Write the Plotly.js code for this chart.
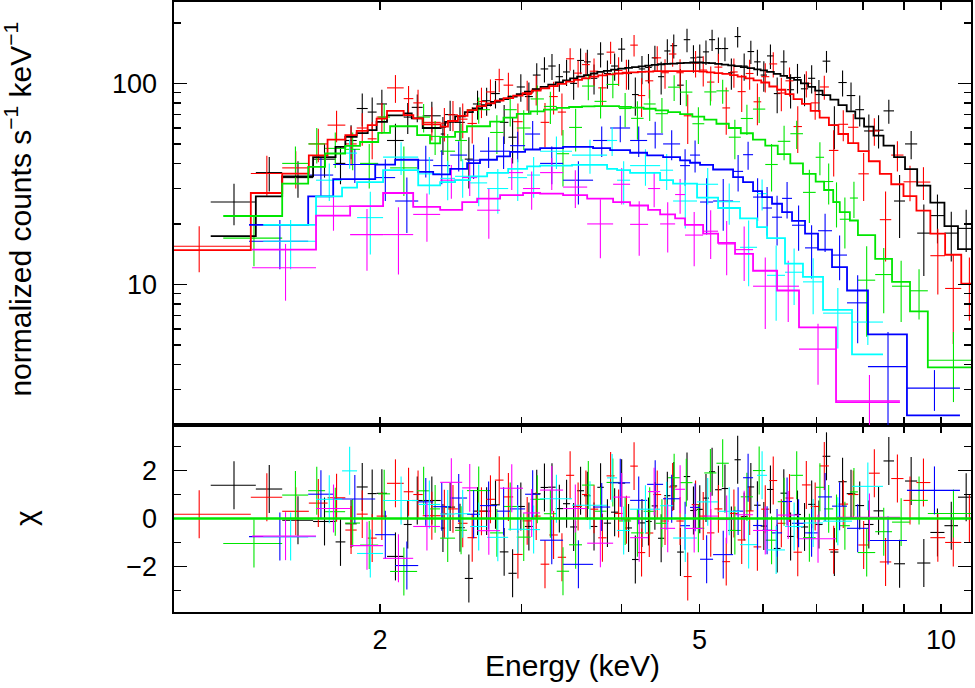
<!DOCTYPE html>
<html>
<head>
<meta charset="utf-8">
<script src="https://cdn.plot.ly/plotly-3.0.1.min.js"></script>
<style>
  html, body { margin: 0; padding: 0; background: #fff; }
  #plot { width: 975px; height: 688px; }
</style>
</head>
<body>
<div id="plot"></div>
<script>
// --- spectra: bin edges (keV), counts, 1-sigma errors, folded model ---
const blackEdges = [1.23, 1.40, 1.51, 1.65, 1.76, 1.81, 1.87, 1.93, 1.98, 2.04, 2.14, 2.19, 2.26, 2.38, 2.41, 2.48, 2.55, 2.61, 2.68, 2.75,
  2.82, 2.89, 2.96, 3.03, 3.10, 3.17, 3.24, 3.31, 3.38, 3.45, 3.52, 3.59, 3.66, 3.73, 3.80, 3.88, 3.96, 4.04, 4.12, 4.20,
  4.28, 4.36, 4.44, 4.52, 4.60, 4.69, 4.78, 4.87, 4.96, 5.05, 5.14, 5.23, 5.33, 5.43, 5.53, 5.63, 5.74, 5.85, 5.96, 6.07,
  6.19, 6.31, 6.43, 6.56, 6.69, 6.83, 6.97, 7.12, 7.28, 7.45, 7.63, 7.82, 8.02, 8.24, 8.48, 8.74, 9.02, 9.34, 9.70, 10.1, 10.5, 11.0];
const blackCounts = [25.7, 36, 34, 42, 40, 52, 75, 72, 79, 52, 68, 76, 69, 56, 70, 64, 42, 79, 82, 89,
  64, 54, 96, 86, 110, 118, 122, 108, 114, 100, 130, 128, 106, 140, 112, 122, 148, 112, 88, 118,
  120, 134, 108, 145, 154, 98, 165, 134, 135, 143.5, 165, 149, 149, 113, 171, 122, 144, 128, 110, 137,
  89, 128, 93, 107, 94, 106, 88, 129, 62, 101, 87, 74, 58, 58.5, 73, 26, 50, 18, 22, 18, 19];
const blackErr = [6, 7, 7, 8, 8.5, 10, 14, 13, 14, 11, 12, 12, 12, 12, 12, 12, 12, 13, 13, 14,
  14, 14, 15, 15, 16, 17, 18, 17, 17, 17, 19, 19, 18, 20, 18, 19, 20, 19, 19, 19,
  20, 20, 20, 21, 21, 20, 22, 21, 21, 20, 20, 20, 20, 20, 20, 19, 19, 19, 19, 19,
  18, 18, 18, 18, 17, 17, 16, 16, 15, 15, 14, 13, 12, 11, 10, 9, 8, 7, 6, 5, 4.5];
const blackModel = [17.4, 27.4, 34.5, 43, 48.3, 54.2, 56.6, 58.5, 64.3, 69.4, 71, 67, 60, 60.8, 64.3, 68.6, 72, 75, 78, 81,
  83.5, 86, 88.5, 91, 93.5, 96, 98.5, 101, 103.5, 106, 108, 110, 112, 114, 115.5, 117, 118.5, 119.5, 120.5, 121.5,
  122.5, 123.5, 124.5, 125, 125.5, 126, 126.5, 127, 127, 126.5, 126, 125, 124, 123, 122, 120.5, 119, 117.5, 116, 114,
  111.5, 109, 106.5, 104, 100, 96, 92, 87.5, 83, 78, 72.5, 67, 61, 55, 49, 43, 37.5, 31, 25.5, 19.5, 15];

const redEdges = [1.0, 1.38, 1.51, 1.63, 1.72, 1.81, 1.87, 1.93, 1.98, 2.04, 2.14, 2.20, 2.26, 2.38, 2.43, 2.50, 2.57, 2.64, 2.71, 2.78,
  2.85, 2.93, 3.01, 3.09, 3.17, 3.25, 3.33, 3.41, 3.49, 3.57, 3.65, 3.74, 3.83, 3.92, 4.01, 4.10, 4.19, 4.28, 4.38, 4.48,
  4.58, 4.68, 4.78, 4.89, 5.00, 5.11, 5.22, 5.34, 5.46, 5.58, 5.71, 5.84, 5.97, 6.11, 6.25, 6.40, 6.55, 6.71, 6.88, 7.06,
  7.25, 7.45, 7.66, 7.89, 8.13, 8.39, 8.67, 8.98, 9.32, 9.70, 10.12, 10.6, 11.1];
const redCounts = [15.5, 35.6, 38, 50, 62, 50, 60, 53, 68, 95, 84, 80, 64, 63.4, 69.8, 66.4, 63.2, 81.2, 90.7, 104.4,
  98, 64.5, 88, 93.6, 64, 86, 72, 132.6, 112.5, 124, 115, 95, 143, 116, 112, 155, 87, 103, 134, 113,
  140, 113, 69, 126, 116.5, 101.5, 120.5, 75.5, 114, 91, 112, 81, 108, 125, 89.6, 103, 61, 100, 80, 96,
  46.4, 62.6, 60.5, 35.5, 58, 21, 44, 32.4, 32.3, 13.9, 9.55, 10.1];
const redErr = [4, 8, 8, 9.5, 11, 11, 11, 11, 12, 15, 13, 13, 12, 12, 12, 13, 13, 14, 14, 14,
  15, 15, 15, 16, 16, 16, 17, 17, 17, 18, 18, 18, 18, 19, 19, 19, 19, 19, 19, 19,
  19, 19, 19, 19, 20, 20, 20, 20, 19, 19, 19, 19, 18, 18, 17, 17, 16, 15, 14, 13,
  12, 11, 10, 9.5, 9, 8, 7.5, 6.5, 6, 5, 4.5, 3.5];
const redModel = [14.8, 28.5, 35.6, 43.9, 52.5, 55.3, 58, 62, 66.8, 73, 69.5, 67, 62.6, 61, 65, 69, 73.6, 77, 79.5, 82,
  84.5, 87, 89.5, 92, 94.5, 97, 99.5, 102, 104, 106, 108, 109.5, 111, 112, 113, 113.5, 114, 114.5, 115, 115,
  115, 115, 115, 115, 114.5, 113.5, 112.5, 111.5, 110, 108, 106, 103.5, 101, 96.5, 93, 88.5, 83.5, 79, 73, 67.5,
  62, 56, 50.5, 46, 41, 35.5, 31.5, 27.5, 23.3, 17.9, 14.05, 10.1];

const greenEdges = [1.275, 1.51, 1.627, 1.708, 1.809, 1.888, 1.989, 2.058, 2.224, 2.308, 2.376, 2.48, 2.566, 2.742, 2.85, 2.96, 3.08, 3.20, 3.32, 3.44,
  3.57, 3.70, 3.83, 3.97, 4.11, 4.26, 4.41, 4.57, 4.73, 4.90, 5.07, 5.25, 5.44, 5.63, 5.83, 6.04, 6.26, 6.49, 6.73, 6.98,
  7.15, 7.34, 7.48, 7.70, 7.88, 8.28, 8.69, 9.15, 9.63, 11.1];
const greenCounts = [17, 40, 50, 47.5, 47, 40, 68, 38, 68, 54.5, 46, 52, 74, 57, 74, 60, 83.7, 76.8, 44.7, 60.4,
  97, 81.4, 98.8, 75, 67, 79, 70.7, 95.8, 90.5, 63, 90.7, 91.8, 54, 66.9, 74.5, 39.5, 51.5, 56.2, 28.7, 42.9,
  32.5, 25.7, 21.1, 26.9, 10.5, 11.2, 9.8, 9.3, 4.2];
const greenErr = [4.7, 8.5, 10, 9.5, 10, 10, 11, 10.5, 11, 10.5, 10, 11, 11, 12.5, 13, 13.5, 14, 14, 14, 14.5,
  14.5, 14.5, 14.5, 14.5, 14.5, 14, 14, 14, 13.5, 13, 13, 12.5, 12, 11.5, 11, 10.5, 10, 9, 8.5, 8,
  7.5, 6.5, 6, 5.5, 5, 4, 3.3, 2.6, 1.6];
const greenModel = [21.9, 31.7, 38.4, 44.8, 48.9, 51.1, 56.7, 61.2, 55.3, 50.3, 54.2, 57.4, 61.2, 64.5, 67.5, 70.5, 72.5, 74, 75.5, 76.3,
  76.8, 77, 77, 76.5, 75.7, 74.8, 73.5, 72, 70.3, 68.3, 66, 63, 60, 56.5, 52.5, 49, 44.5, 40, 35.5, 32.5,
  29.5, 25.7, 22.9, 20.8, 17.6, 13.4, 10.3, 7.34, 3.87];

const blueEdges = [1.373, 1.627, 1.748, 1.972, 2.088, 2.231, 2.329, 2.445, 2.567, 2.664, 2.797, 2.904, 3.032, 3.165, 3.381, 3.685, 3.870, 4.098, 4.303, 4.505,
  4.730, 4.867, 5.009, 5.200, 5.507, 5.667, 5.832, 5.985, 6.158, 6.338, 6.522, 6.770, 7.027, 7.315, 7.637, 8.110, 9.070, 10.56];
const blueCounts = [16.4, 35, 39.5, 34, 26, 41.5, 39, 44, 41.5, 46, 46, 49, 56, 40, 33, 52, 60, 52, 56, 50,
  39, 44, 25.7, 26, 36.5, 44.2, 27.2, 24, 21.6, 26.8, 19.7, 15.2, 18.5, 14, 8.1, 3.9, 3.05];
const blueErr = [4.5, 7.5, 7.5, 8, 8, 7.5, 7.5, 7.5, 8, 8, 8.5, 8.5, 9, 8.5, 8, 9, 9, 9, 8.5, 8.5,
  8, 8, 8, 7.5, 7.5, 7, 6.5, 6.5, 6, 5.5, 5, 4.5, 4, 3.5, 3, 1.9, 0.7];
const blueModel = [19.8, 27.4, 33.4, 39.4, 41.7, 36.3, 35.3, 37.6, 40.1, 41.7, 43.4, 45.6, 46.9, 47.7, 48.3, 47.7, 46.6, 45.2, 43.9, 43,
  41.4, 40.3, 39.3, 37.3, 34.2, 32.3, 29.1, 27.2, 25.2, 22.9, 20.7, 17.9, 14.9, 12.2, 9.33, 5.64, 2.23];

const cyanEdges = [1.430, 1.664, 1.793, 1.872, 2.017, 2.231, 2.376, 2.480, 2.589, 2.719, 2.888, 3.049, 3.165, 3.469, 3.836, 3.948, 4.098, 4.467, 4.636, 4.966,
  5.275, 5.618, 5.899, 6.071, 6.392, 6.730, 7.129, 7.747, 8.467];
const cyanCounts = [16.4, 33, 45, 21.5, 43, 35.5, 33.7, 34.5, 32, 30, 34, 35, 46, 44, 52, 33, 39, 37, 26, 31.5,
  25.8, 15.3, 28.3, 11.1, 11.5, 10.3, 7.2, 6.5];
const cyanErr = [4.5, 7, 7.4, 7.4, 8, 7.5, 7.5, 7.5, 7.5, 7.5, 8, 8, 8.5, 8.5, 8.5, 8, 8, 7.5, 7, 6.5,
  6, 5.5, 5, 4.5, 3.6, 3.2, 2.4, 1.5];
const cyanModel = [19.8, 27.4, 30.3, 32.3, 37, 31.1, 32.3, 33, 34.5, 35.9, 37.6, 38.7, 39, 39.3, 37.6, 37, 35.9, 33, 31.7, 27,
  24, 21.3, 19.3, 17, 12.7, 10.9, 7.47, 4.49];

const magentaEdges = [1.385, 1.664, 1.835, 2.017, 2.199, 2.376, 2.531, 2.642, 2.822, 3.014, 3.165, 3.381, 3.623, 3.903, 4.098, 4.315, 4.467, 4.663, 4.798, 5.053,
  5.275, 5.538, 5.832, 6.248, 6.654, 7.400, 8.889];
const magentaCounts = [12.1, 24.5, 17.7, 17.7, 22.3, 33, 34, 23.4, 36, 30, 36, 30.5, 20, 31.5, 19.9, 30, 20, 28, 17.6, 18.4,
  15.9, 14.9, 9.8, 9.8, 4.77, 2.64];
const magentaErr = [3.8, 6, 6, 6.5, 6, 6.3, 6.5, 6.5, 6.5, 6.5, 6.5, 6.5, 6.5, 6.5, 6, 5.8, 5.6, 5.5, 5.3, 5,
  4.8, 4.5, 3.8, 3.3, 1.6, 0.9];
const magentaModel = [14.9, 22.0, 24.5, 28.5, 24.3, 23.5, 25.7, 26.7, 27.8, 28.5, 28.3, 27.8, 26.7, 25.7, 24.7, 23.5, 22.3, 21.3, 19.8, 17.9,
  16.1, 14.2, 11.7, 9.33, 6.12, 2.6];

const series = [
  { edges: blackEdges, counts: blackCounts, err: blackErr, model: blackModel, color: '#000000' },
  { edges: redEdges, counts: redCounts, err: redErr, model: redModel, color: '#ff0000' },
  { edges: greenEdges, counts: greenCounts, err: greenErr, model: greenModel, color: '#00e600' },
  { edges: blueEdges, counts: blueCounts, err: blueErr, model: blueModel, color: '#0000ff' },
  { edges: cyanEdges, counts: cyanCounts, err: cyanErr, model: cyanModel, color: '#00ffff' },
  { edges: magentaEdges, counts: magentaCounts, err: magentaErr, model: magentaModel, color: '#ff00ff' }
];

function binCenters(edges) { return edges.slice(0, -1).map((e, i) => (e + edges[i + 1]) / 2); }
function binHalfWidths(edges) { return edges.slice(0, -1).map((e, i) => (edges[i + 1] - e) / 2); }

let dataTraces = [], modelTraces = [], resTraces = [];
series.forEach(s => {
  let xc = binCenters(s.edges);
  let hw = binHalfWidths(s.edges);
  let errX = { type: 'data', array: hw, color: s.color, thickness: 1.1, width: 0 };
  // crosses only: the marker itself is hidden, the error bars make the "+"
  dataTraces.push({
    x: xc, y: s.counts, xaxis: 'x2', yaxis: 'y', mode: 'markers', type: 'scatter',
    marker: { size: 1, opacity: 0, color: s.color }, hoverinfo: 'skip',
    error_x: errX,
    error_y: { type: 'data', array: s.err, color: s.color, thickness: 1.1, width: 0 }
  });
  // step model: one value per bin, last one repeated to close the final bin
  modelTraces.push({
    x: s.edges, y: s.model.concat([s.model[s.model.length - 1]]), xaxis: 'x2', yaxis: 'y',
    mode: 'lines', type: 'scatter', line: { shape: 'hv', color: s.color, width: 1.8 }, hoverinfo: 'skip'
  });
  // residuals (data - model) / error
  let chi = s.counts.map((c, i) => (c - s.model[i]) / s.err[i]);
  resTraces.push({
    x: xc, y: chi, xaxis: 'x', yaxis: 'y2', mode: 'markers', type: 'scatter',
    marker: { size: 1, opacity: 0, color: s.color }, hoverinfo: 'skip',
    error_x: errX,
    error_y: { type: 'constant', value: 1, color: s.color, thickness: 1.1, width: 0 }
  });
});

const xRange = [Math.log10(1.107), Math.log10(10.9)];
const split = 0.3066;
const tickFont = { family: 'Liberation Sans, Arial, sans-serif', size: 27, color: '#000' };
const titleFont = { family: 'Liberation Sans, Arial, sans-serif', size: 30, color: '#000' };
const frame = {
  showline: true, linecolor: '#000', linewidth: 1.6, mirror: 'ticks', ticks: 'inside',
  tickcolor: '#000', tickwidth: 1.6, showgrid: false, zeroline: false, tickfont: tickFont
};

const layout = {
  width: 975, height: 688,
  margin: { l: 174, r: 4, t: 2, b: 76 },
  showlegend: false,
  paper_bgcolor: '#fff', plot_bgcolor: '#fff',
  font: tickFont,
  xaxis: Object.assign({}, frame, {
    type: 'log', range: xRange, anchor: 'y2', domain: [0, 1],
    tickvals: [2, 5, 10], ticktext: ['2', '5', '10'], ticklen: 8, ticklabelstandoff: 3,
    minor: { tickvals: [3, 4, 6, 7, 8, 9], ticks: 'inside', ticklen: 8, tickwidth: 1.6, tickcolor: '#000', showgrid: false }
  }),
  xaxis2: Object.assign({}, frame, {
    type: 'log', range: xRange, anchor: 'y', domain: [0, 1],
    tickvals: [2, 5, 10], ticklen: 8, showticklabels: false,
    minor: { tickvals: [3, 4, 6, 7, 8, 9], ticks: 'inside', ticklen: 8, tickwidth: 1.6, tickcolor: '#000', showgrid: false }
  }),
  yaxis: Object.assign({}, frame, {
    type: 'log', range: [Math.log10(2), Math.log10(254)], domain: [split, 1], anchor: 'x2',
    tickvals: [10, 100], ticktext: ['10', '100'], ticklen: 13, ticklabelstandoff: 10,
    minor: { tickvals: [2, 3, 4, 5, 6, 7, 8, 9, 20, 30, 40, 50, 60, 70, 80, 90, 200],
             ticks: 'inside', ticklen: 7, tickwidth: 1.6, tickcolor: '#000', showgrid: false }
  }),
  yaxis2: Object.assign({}, frame, {
    range: [-3.9, 3.9], domain: [0, split], anchor: 'x',
    tickvals: [-2, 0, 2], ticktext: ['\u22122', '0', '2'], ticklen: 13, ticklabelstandoff: 10,
    minor: { tickvals: [-3, -1, 1, 3], ticks: 'inside', ticklen: 7, tickwidth: 1.6, tickcolor: '#000', showgrid: false }
  }),
  shapes: [{
    type: 'line', xref: 'paper', x0: 0, x1: 1, yref: 'y2', y0: 0, y1: 0,
    line: { color: '#00e600', width: 2.5 }
  }],
  annotations: [
    { text: 'Energy (keV)', xref: 'paper', yref: 'paper', x: 0.5, y: -0.088, xanchor: 'center', yanchor: 'middle',
      showarrow: false, font: titleFont },
    { text: 'normalized counts s<sup>\u22121</sup> keV<sup>\u22121</sup>', xref: 'paper', yref: 'paper',
      x: -0.196, y: 0.661, xanchor: 'center', yanchor: 'middle', textangle: -90, showarrow: false, font: titleFont },
    { text: '\u03c7', xref: 'paper', yref: 'paper', x: -0.187, y: 0.154, xanchor: 'center', yanchor: 'middle',
      textangle: -90, showarrow: false, font: titleFont }
  ]
};

Plotly.newPlot('plot', dataTraces.concat(modelTraces, resTraces), layout, { staticPlot: true, displayModeBar: false });
</script>
</body>
</html>
